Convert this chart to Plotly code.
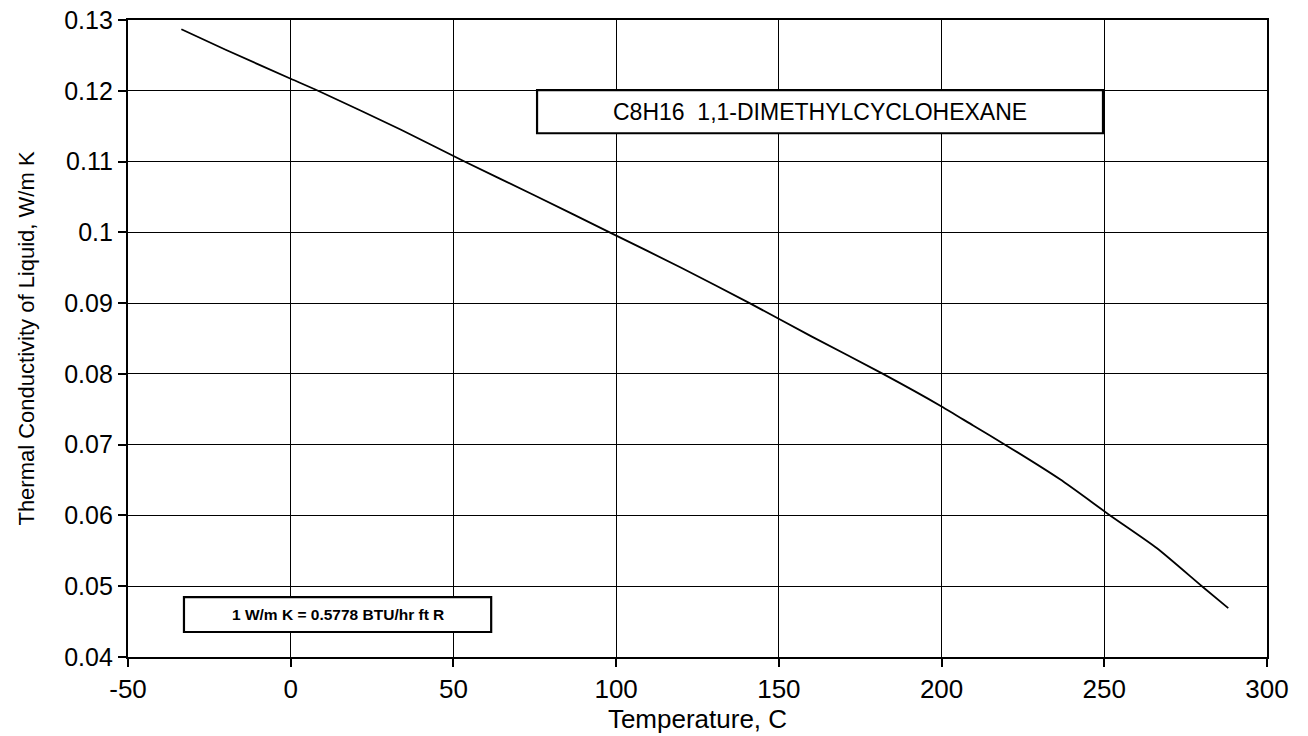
import plotly.graph_objects as go

temperature_c = [-33.6, -20, 0, 8.4, 33.9, 53.4, 75, 98, 120, 141, 160, 182, 200, 209.7, 219.5, 236.4, 251.8, 266.1, 280, 288.1]
conductivity = [0.1287, 0.1258, 0.1217, 0.1200, 0.1145, 0.1100, 0.1052, 0.1000, 0.0950, 0.0900,
                0.0853, 0.0800, 0.0754, 0.0727, 0.0700, 0.0651, 0.0600, 0.0554, 0.0500, 0.0469]

x_ticks = [-50, 0, 50, 100, 150, 200, 250, 300]
x_tick_labels = ["-50", "0", "50", "100", "150", "200", "250", "300"]
y_ticks = [0.04, 0.05, 0.06, 0.07, 0.08, 0.09, 0.1, 0.11, 0.12, 0.13]
y_tick_labels = ["0.04", "0.05", "0.06", "0.07", "0.08", "0.09", "0.1", "0.11", "0.12", "0.13"]

title_text = "C8H16  1,1-DIMETHYLCYCLOHEXANE"
note_text = "1 W/m K = 0.5778 BTU/hr ft R"

fig = go.Figure()
fig.add_trace(go.Scatter(x=temperature_c, y=conductivity, mode="lines",
                         line=dict(color="black", width=1.8, shape="spline", smoothing=0.6),
                         showlegend=False))

font = "Liberation Sans, Arial, Helvetica, sans-serif"

fig.update_layout(
    width=1308, height=736,
    margin=dict(l=128, r=41, t=20, b=79),
    plot_bgcolor="white", paper_bgcolor="white",
    font=dict(family=font, color="black"),
    xaxis=dict(range=[-50, 300], tickvals=x_ticks, ticktext=x_tick_labels,
               showgrid=True, gridcolor="black", gridwidth=1.3,
               showline=True, linecolor="black", linewidth=2.2, mirror=True,
               ticks="outside", ticklen=8, tickwidth=2, tickcolor="black",
               tickfont=dict(size=26, family=font), zeroline=False, automargin=False,
               title=dict(text="Temperature, C", font=dict(size=26, family=font), standoff=0)),
    yaxis=dict(range=[0.04, 0.13], tickvals=y_ticks, ticktext=y_tick_labels, showgrid=True,
               gridcolor="black", gridwidth=1.3,
               showline=True, linecolor="black", linewidth=2.2, mirror=True,
               ticks="outside", ticklen=8, tickwidth=2, tickcolor="black",
               tickfont=dict(size=25, family=font), zeroline=False, automargin=False,
               ticklabeloverflow="allow",
               title=dict(text="Thermal Conductivity of Liquid, W/m K", font=dict(size=22, family=font), standoff=24)),
)

fig.add_shape(type="rect", xref="x", yref="y", x0=75.7, x1=249.6, y0=0.1140, y1=0.1201,
              line=dict(color="black", width=2.2), fillcolor="white", layer="above")
fig.add_annotation(x=162.6, y=0.11705, xref="x", yref="y", text=title_text, showarrow=False,
                   font=dict(size=23, family=font, color="black"))

fig.add_shape(type="rect", xref="x", yref="y", x0=-32.8, x1=61.6, y0=0.04353, y1=0.04847,
              line=dict(color="black", width=2.2), fillcolor="white", layer="above")
fig.add_annotation(x=14.4, y=0.0460, xref="x", yref="y", text="<b>" + note_text + "</b>", showarrow=False,
                   font=dict(size=15.5, family=font, color="black"))

fig.write_html("out.html", config={"displayModeBar": False},
               post_script="document.body.style.margin='0px';document.body.style.overflow='hidden';")
